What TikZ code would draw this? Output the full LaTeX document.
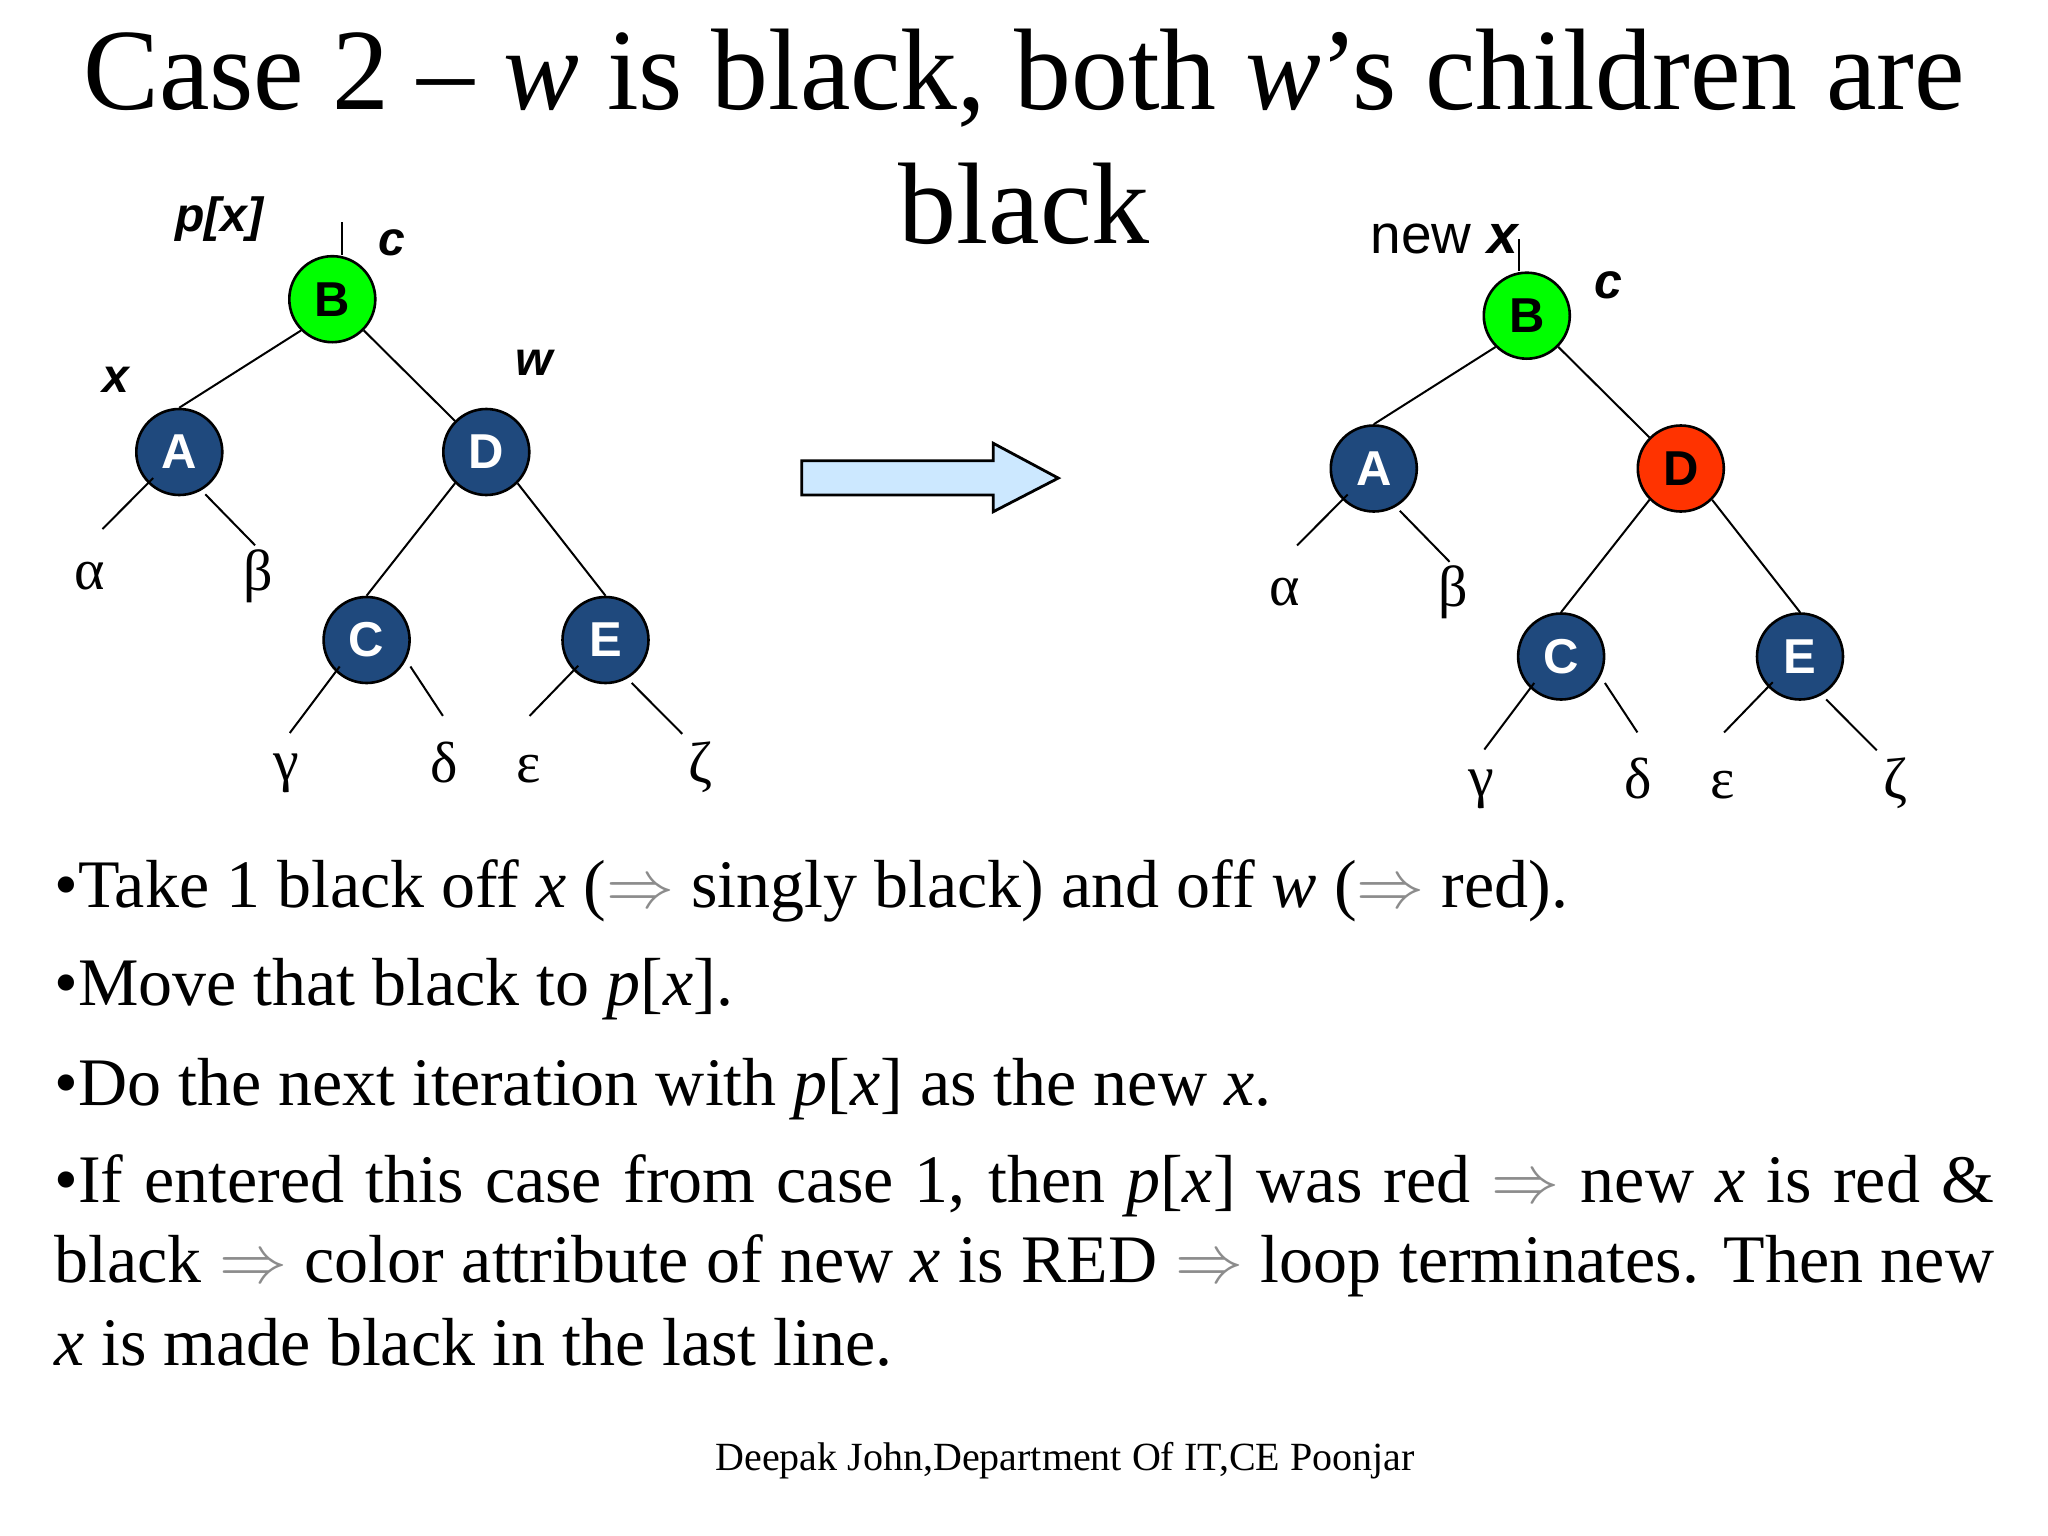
\documentclass[tikz,border=0pt]{standalone}
\usepackage{graphicx}
\usepackage{fontspec}
\setmainfont{Liberation Serif}
\newfontfamily\arialf{Liberation Sans}
\definecolor{nblue}{RGB}{31,73,125}
\definecolor{ngreen}{RGB}{0,255,0}
\definecolor{nred}{RGB}{255,51,0}
\definecolor{arrfill}{RGB}{204,232,255}
\definecolor{impl}{RGB}{140,140,140}
\newcommand{\fs}[1]{\fontsize{#1}{#1}\selectfont}
\newcommand{\imp}{{\color{impl}\scalebox{6.8}{\fontsize{10}{10}\selectfont$\Rightarrow$}}}
\tikzset{
  rbnode/.style={circle, draw=black, line width=2.6pt, minimum size=86pt, inner sep=0pt,
    fill=nblue, text=white, font=\arialf\bfseries\fs{49}},
  edge/.style={line width=2pt},
  greek/.style={anchor=base, inner sep=0pt, font=\fs{58}},
  lab/.style={anchor=base west, inner sep=0pt, font=\arialf\bfseries\itshape\fs{48}},
  txt/.style={anchor=base west, inner sep=0pt, font=\fs{68}},
}
\newcommand{\rbtree}[2]{%
  \node[rbnode,fill=ngreen,text=black] (#1B) at (332.3,299.2) {B};
  \node[rbnode] (#1A) at (179.3,452) {A};
  \node[rbnode,#2] (#1D) at (486.3,452) {D};
  \node[rbnode] (#1C) at (366.6,640) {C};
  \node[rbnode] (#1E) at (605.5,640) {E};
  \draw[edge] (#1B.-135) -- (#1A.north);
  \draw[edge] (#1B) -- (#1D);
  \draw[edge] (#1D.-135) -- (#1C.north);
  \draw[edge] (#1D.-45) -- (#1E.north);
  \coordinate (#1a1) at (153.2,478);   \coordinate (#1a2) at (102.5,529);
  \coordinate (#1b1) at (205.3,494.3); \coordinate (#1b2) at (255.1,545.3);
  \coordinate (#1g1) at (339.7,666.5); \coordinate (#1g2) at (289.8,733);
  \coordinate (#1d1) at (410.4,666.5); \coordinate (#1d2) at (442.9,715.9);
  \coordinate (#1e1) at (578.2,665.7); \coordinate (#1e2) at (529.6,715.9);
  \coordinate (#1z1) at (631.6,682.9); \coordinate (#1z2) at (682.3,733.9);
  \draw[edge] (#1a1) -- (#1a2);
  \draw[edge] (#1b1) -- (#1b2);
  \draw[edge] (#1g1) -- (#1g2);
  \draw[edge] (#1d1) -- (#1d2);
  \draw[edge] (#1e1) -- (#1e2);
  \draw[edge] (#1z1) -- (#1z2);
  \node[greek] (#1al) at (89.7,589) {α};
  \node[greek] (#1be) at (258.6,590) {β};
  \node[greek] (#1ga) at (286.8,780) {γ};
  \node[greek] (#1de) at (443.8,782) {δ};
  \node[greek] (#1ep) at (528.3,782) {ε};
  \node[greek] (#1ze) at (700.5,782) {ζ};
}
\begin{document}
\begin{tikzpicture}[x=1pt,y=-1pt]
\useasboundingbox (0,0) rectangle (2048,1536);
\fill[white] (0,0) rectangle (2048,1536);

% title
\node[anchor=base, inner sep=0pt, font=\fs{116}] (title1) at (1024,110)
  {\scalebox{0.98}[1]{Case 2 – \textit{w} is black, both \textit{w}’s children are}};
\node[anchor=base, inner sep=0pt, font=\fs{116}] (title2) at (1024,243) {black};

% left tree
\rbtree{l}{}
\coordinate (lptop) at (341.9,222);
\draw[edge] (lptop) -- (lptop |- lB.north);
\node[lab] (lpx) at (175,231) {p[x]};
\node[lab] (lc) at (378.7,255.5) {c};
\node[lab] (lx) at (102.5,392.2) {x};
\node[lab] (lw) at (515.3,375.9) {w};

% arrow
\draw[line width=2.8pt, fill=arrfill, line join=miter]
  (801.7,460.7) -- (993.3,460.7) -- (993.3,443.3) -- (1058.3,478.1)
  -- (993.3,511.7) -- (993.3,495) -- (801.7,495) -- cycle;

% right tree
\begin{scope}[shift={(1194.5,16.5)}]
\rbtree{r}{fill=nred,text=black}
\end{scope}
\coordinate (rxtop) at (1518.75,239);
\draw[edge] (rxtop) -- (rxtop |- rB.north);
\node[anchor=base west, inner sep=0pt, font=\arialf\fs{55}] (rnew) at (1370.5,253.3)
  {new \textbf{\textit{x}}};
\node[lab, font=\arialf\bfseries\itshape\fs{50}] (rc) at (1593.8,298.2) {c};

% bullet text
\node[txt] (b1) at (54,907)
  {•Take 1 black off \textit{x} (\imp{} singly black) and off \textit{w} (\imp{} red).};
\node[txt] (b2) at (54,1005) {•Move that black to \textit{p}[\textit{x}].};
\node[txt] (b3) at (54,1105)
  {•Do the next iteration with \textit{p}[\textit{x}] as the new \textit{x}.};
\node[txt] (b4) at (54,1202)
  {\makebox[1940pt][s]{•If entered this case from case 1, then \textit{p}[\textit{x}] was red \imp{} new \textit{x} is red \&}};
\node[txt] (b5) at (54,1282)
  {\makebox[1940pt][s]{black \imp{} color attribute of new \textit{x} is RED \imp{} loop terminates. Then new}};
\node[txt] (b6) at (54,1365) {\textit{x} is made black in the last line.};

% footer
\node[anchor=base, inner sep=0pt, font=\fs{40}] (foot) at (1065,1470)
  {Deepak John,Department Of IT,CE Poonjar};
\end{tikzpicture}
\end{document}
